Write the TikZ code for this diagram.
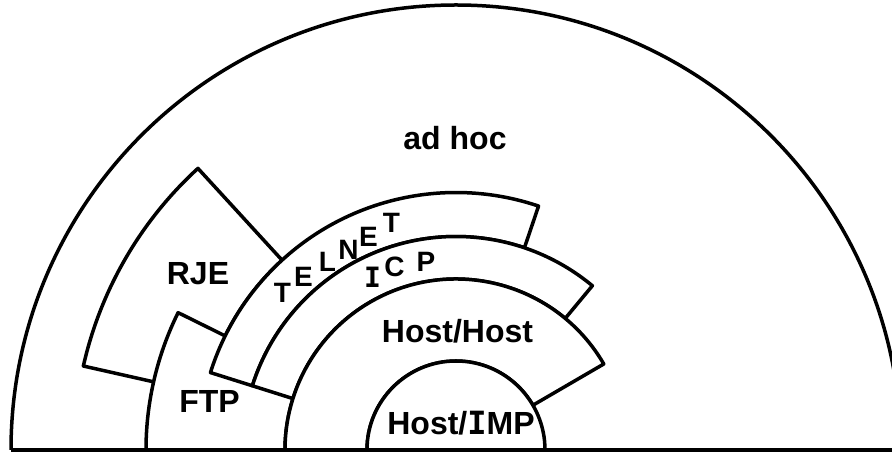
\documentclass[tikz,border=0pt]{standalone}
\usepackage{fontspec}
\setmainfont{Liberation Sans}
\newfontfamily\serifI{DejaVu Sans Mono}
\newcommand{\SI}{{\serifI\bfseries I}}
\begin{document}
\begin{tikzpicture}[x=1pt,y=1pt,
  shp/.style={draw=black,fill=white,line width=3.5pt,line join=round},
  big/.style={font=\fontsize{32}{36}\selectfont\bfseries,inner sep=0pt,anchor=base},
  small/.style={font=\fontsize{28}{32}\selectfont\bfseries,inner sep=0pt,anchor=base}]
\useasboundingbox (0,0) rectangle (892,454);
\clip (0,0) rectangle (892,454);
\fill[white] (0,0) rectangle (892,454);
\coordinate (C) at (456,4);
\coordinate (L) at ([shift={(C)}]180:445);
\coordinate (R) at (892,4);
% outer ad hoc arc
\draw[line width=3.5pt] (L) arc[start angle=180,end angle=0,radius=445];
% RJE
\draw[shp] ([shift={(C)}]132.5:382) arc[start angle=132.5,end angle=167.3,radius=382]
  -- ([shift={(C)}]167.3:257.5) arc[start angle=167.3,end angle=132.5,radius=257.5] -- cycle;
% FTP
\draw[shp] ([shift={(C)}]153.7:310) arc[start angle=153.7,end angle=180,radius=310]
  -- ([shift={(C)}]180:171) arc[start angle=180,end angle=153.7,radius=171] -- cycle;
% TELNET
\draw[shp] ([shift={(C)}]71.3:257.5) arc[start angle=71.3,end angle=162.5,radius=257.5]
  -- ([shift={(C)}]162.5:213.5) arc[start angle=162.5,end angle=71.3,radius=213.5] -- cycle;
% ICP
\draw[shp] ([shift={(C)}]50.3:213.5) arc[start angle=50.3,end angle=162.5,radius=213.5]
  -- ([shift={(C)}]162.5:171) arc[start angle=162.5,end angle=50.3,radius=171] -- cycle;
% Host/Host
\draw[shp] ([shift={(C)}]30.2:171) arc[start angle=30.2,end angle=180,radius=171]
  -- ([shift={(C)}]180:89) arc[start angle=180,end angle=30.2,radius=89] -- cycle;
% Host/IMP
\draw[shp] ([shift={(C)}]0:89) arc[start angle=0,end angle=180,radius=89] -- cycle;
% baseline
\draw[line width=4.5pt] (L) -- (R);
% labels
\node[big] (adhoc) at (455,304) {ad hoc};
\node[big] (rje) at (198,169) {RJE};
\node[big] (ftp) at (209.5,41) {FTP};
\node[big] (hh) at (457.5,111) {Host/Host};
\node[big] (hi) at (461,19) {Host/\SI MP};
% TELNET letters
\node[small] (t1) at (282.5,151) {T};
\node[small] (t2) at (303.5,167) {E};
\node[small] (t3) at (327.5,182) {L};
\node[small] (t4) at (348.5,194) {N};
\node[small] (t5) at (368.5,207) {E};
\node[small] (t6) at (391.5,221) {T};
% ICP letters
\node[small] (i1) at (372.5,166) {\SI};
\node[small] (i2) at (394.5,177) {C};
\node[small] (i3) at (426,182) {P};
\end{tikzpicture}
\end{document}
